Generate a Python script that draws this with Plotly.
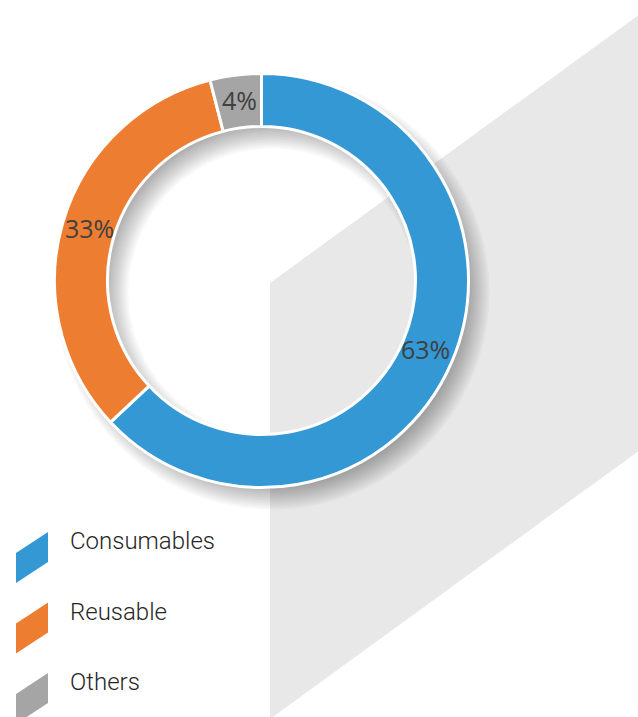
import numpy as np
import plotly.graph_objects as go

# Share of spend by product type
categories = ["Consumables", "Reusable", "Others"]
shares = [63, 33, 4]
colors = ["#3498D4", "#ED7D31", "#A5A5A5"]

W, H = 638, 717
CX, CY = 261.5, 280.5      # donut centre (px)
R_OUT, R_IN = 207, 154     # donut radii (px)


def px(x):
    return x / W


def py(y):
    return 1 - y / H


def poly(points):
    return "M " + " L ".join(f"{px(x):.5f},{py(y):.5f}" for x, y in points) + " Z"


def ring_path(cx, cy, ro, ri, n=240):
    t = np.linspace(0, 2 * np.pi, n, endpoint=False)
    outer = [(cx + ro * np.cos(a), cy + ro * np.sin(a)) for a in t]
    inner = [(cx + ri * np.cos(a), cy - ri * np.sin(a)) for a in t]
    return poly(outer) + " " + poly(inner)


shapes = []

# grey slanted backdrop panel
shapes.append(dict(type="path", xref="paper", yref="paper", layer="below",
                   path=poly([(270, 283), (640, 14), (640, 450), (270, 719)]),
                   fillcolor="#E8E8E8", line=dict(width=0)))

# soft drop shadow under the ring, built from stacked translucent rings
SH_DX, SH_DY = 11, 12
for s in range(-12, 12, 2):
    shapes.append(dict(type="path", xref="paper", yref="paper", layer="below",
                       path=ring_path(CX + SH_DX, CY + SH_DY, R_OUT + s, R_IN - s),
                       fillcolor="rgba(0,0,0,0.028)", line=dict(width=0)))

annotations = []

# percentage labels at the middle of each slice (clockwise from 12 o'clock)
total = sum(shares)
r_mid = 179
start = 0.0
for v in shares:
    mid = np.deg2rad((start + v / 2) / total * 360)
    start += v
    annotations.append(dict(x=px(CX + r_mid * np.sin(mid)), y=py(CY - r_mid * np.cos(mid) - 3),
                            xref="paper", yref="paper", showarrow=False,
                            text=f"{round(v / total * 100)}%",
                            xanchor="center", yanchor="middle",
                            font=dict(family="Open Sans", size=25, color="#404040")))

# legend swatches (slanted) and labels
for i, (name, col) in enumerate(zip(categories, colors)):
    y0 = 553 + 70.5 * i
    shapes.append(dict(type="path", xref="paper", yref="paper",
                       path=poly([(16, y0), (48, y0 - 21), (48, y0 + 9), (16, y0 + 30)]),
                       fillcolor=col, line=dict(width=0)))
    annotations.append(dict(x=px(68), y=py(541 + 70.5 * i), xref="paper", yref="paper",
                            text=name, showarrow=False, xanchor="left", yanchor="middle",
                            font=dict(family="Roboto", size=24, color="#262626", weight=300)))

fig = go.Figure()
fig.add_trace(go.Pie(
    labels=categories, values=shares, hole=R_IN / R_OUT,
    sort=False, direction="clockwise", rotation=0,
    marker=dict(colors=colors, line=dict(color="white", width=3)),
    textinfo="none",
    domain=dict(x=[px(CX - R_OUT), px(CX + R_OUT)], y=[py(CY + R_OUT), py(CY - R_OUT)]),
    showlegend=False, hoverinfo="label+percent",
))

fig.update_layout(
    width=W, height=H, margin=dict(l=0, r=0, t=0, b=0),
    paper_bgcolor="white", plot_bgcolor="white",
    shapes=shapes, annotations=annotations,
    showlegend=False,
)

fig.write_html("out.html")
